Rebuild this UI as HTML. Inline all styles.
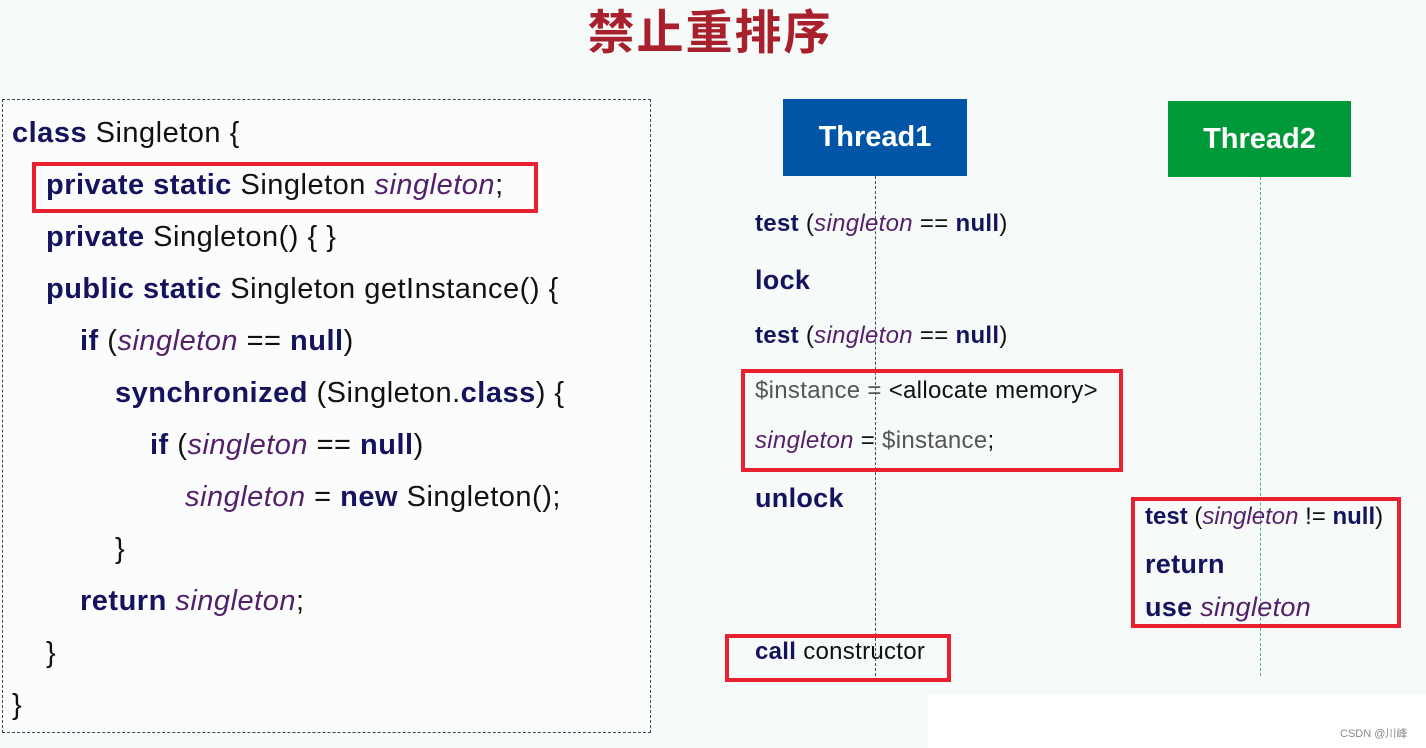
<!DOCTYPE html>
<html><head><meta charset="utf-8"><style>
body{margin:0;width:1426px;height:748px;background:#f6faf8;position:relative;overflow:hidden;font-family:"Liberation Sans","Noto Sans CJK SC",sans-serif}
.l{position:absolute;white-space:nowrap;font-size:29px;line-height:32px;color:#111;letter-spacing:0.5px}
.r{font-size:24px;letter-spacing:0.3px}
b{color:#14145e;font-weight:bold}
i{color:#55206a}
.g{color:#555}
.box{position:absolute;border:4px solid #e8202f;box-sizing:border-box}
</style></head><body>
<div style="position:absolute;left:0;width:1420px;text-align:center;top:2px;font-size:47px;font-weight:bold;color:#a8202c;font-family:'Noto Sans CJK SC',sans-serif;line-height:54px;letter-spacing:2px;">禁止重排序</div>
<div style="position:absolute;left:2px;top:99px;width:649px;height:634px;border:1px dashed #444;box-sizing:border-box;background:#fbfdfc"></div>
<div class="l" style="left:12px;top:117px"><b>class</b> Singleton {</div>
<div class="l" style="left:46px;top:169px"><b>private static</b> Singleton <i>singleton</i>;</div>
<div class="l" style="left:46px;top:221px"><b>private</b> Singleton() { }</div>
<div class="l" style="left:46px;top:273px"><b>public static</b> Singleton getInstance() {</div>
<div class="l" style="left:80px;top:325px"><b>if</b> (<i>singleton</i> == <b>null</b>)</div>
<div class="l" style="left:115px;top:377px"><b>synchronized</b> (Singleton.<b>class</b>) {</div>
<div class="l" style="left:150px;top:429px"><b>if</b> (<i>singleton</i> == <b>null</b>)</div>
<div class="l" style="left:185px;top:481px"><i>singleton</i> = <b>new</b> Singleton();</div>
<div class="l" style="left:115px;top:533px">}</div>
<div class="l" style="left:80px;top:585px"><b>return</b> <i>singleton</i>;</div>
<div class="l" style="left:46px;top:637px">}</div>
<div class="l" style="left:12px;top:689px">}</div>
<div class="box" style="left:32px;top:162px;width:506px;height:51px"></div>

<div style="position:absolute;left:783px;top:99px;width:184px;height:77px;background:#0055a6;color:#fff;font-weight:bold;font-size:29px;text-align:center;line-height:77px">Thread1</div>
<div style="position:absolute;left:1168px;top:101px;width:183px;height:76px;background:#009939;color:#fff;font-weight:bold;font-size:29px;text-align:center;line-height:76px">Thread2</div>
<div style="position:absolute;left:875px;top:176px;height:500px;border-left:1px dashed #446"></div>
<div style="position:absolute;left:1260px;top:177px;height:499px;border-left:1px dashed #5a8"></div>

<div class="l r" style="left:755px;top:208px"><b>test</b> (<i>singleton</i> == <b>null</b>)</div>
<div class="l r" style="left:755px;top:264px;font-size:27px"><b>lock</b></div>
<div class="l r" style="left:755px;top:320px"><b>test</b> (<i>singleton</i> == <b>null</b>)</div>
<div class="l r g" style="left:755px;top:375px"><span class="g">$instance</span> = <span style="color:#111">&lt;allocate memory&gt;</span></div>
<div class="l r" style="left:755px;top:425px"><i>singleton</i> = <span class="g">$instance</span>;</div>
<div class="box" style="left:741px;top:369px;width:382px;height:103px"></div>
<div class="l r" style="left:755px;top:482px;font-size:27px"><b>unlock</b></div>
<div class="l r" style="left:755px;top:636px"><b>call</b> constructor</div>
<div class="box" style="left:725px;top:634px;width:226px;height:48px"></div>
<div class="l r" style="left:1145px;top:501px;letter-spacing:0px"><b>test</b> (<i>singleton</i> != <b>null</b>)</div>
<div class="l r" style="left:1145px;top:548px;font-size:27px"><b>return</b></div>
<div class="l r" style="left:1145px;top:591px;font-size:27px"><b>use</b> <i>singleton</i></div>
<div class="box" style="left:1131px;top:497px;width:270px;height:131px"></div>
<div style="position:absolute;left:928px;top:695px;width:498px;height:53px;background:#fff"></div>
<div style="position:absolute;left:1340px;top:725px;font-size:11px;color:#888">CSDN @川峰</div>
</body></html>
